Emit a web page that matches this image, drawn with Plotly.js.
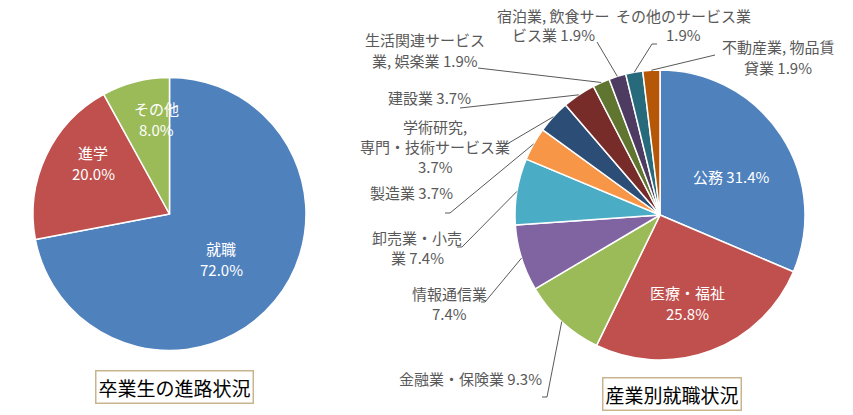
<!DOCTYPE html>
<html>
<head>
<meta charset="utf-8">
<script src="https://cdn.plot.ly/plotly-3.0.1.min.js"></script>
<style>
  html, body { margin: 0; padding: 0; background: #fff; }
  #chart { width: 853px; height: 415px; }
</style>
</head>
<body>
<div id="chart"></div>
<script>
// ---- data ----
const studentCats = ['就職', '進学', 'その他'];
const studentVals = [72.0, 20.0, 8.0];
const studentColors = ['#4F81BD', '#C0504D', '#9BBB59'];

const industryCats = ['公務', '医療・福祉', '金融業・保険業', '情報通信業', '卸売業・小売業', '製造業',
  '学術研究, 専門・技術サービス業', '建設業', '生活関連サービス業, 娯楽業', '宿泊業, 飲食サービス業',
  'その他のサービス業', '不動産業, 物品賃貸業'];
const industryVals = [31.4, 25.8, 9.3, 7.4, 7.4, 3.7, 3.7, 3.7, 1.9, 1.9, 1.9, 1.9];
const industryColors = ['#4F81BD', '#C0504D', '#9BBB59', '#8064A2', '#4BACC6', '#F79646',
  '#2C4D75', '#772C2A', '#5F7530', '#4D3B62', '#276A7C', '#B65708'];
// label text as printed (with line breaks)
const industryLabelLines = ['公務', '医療・福祉<br>', '金融業・保険業', '情報通信業<br>', '卸売業・小売<br>業', '製造業',
  '学術研究,<br>専門・技術サービス業<br>', '建設業', '生活関連サービス<br>業, 娯楽業', '宿泊業, 飲食サー<br>ビス業',
  'その他のサービス業<br>', '不動産業, 物品賃<br>貸業'];
const studentLabelLines = ['就職<br>', '進学<br>', 'その他<br>'];

const titleLeft = '卒業生の進路状況';
const titleRight = '産業別就職状況';

// ---- layout constants (pixels) ----
const W = 853, H = 415;
const leftPie = {cx: 169.5, cy: 214, r: 136.5};
const rightPie = {cx: 660, cy: 215, r: 145};
function dom(p) {
  return {
    x: [(p.cx - p.r) / W, (p.cx + p.r) / W],
    y: [1 - (p.cy + p.r) / H, 1 - (p.cy - p.r) / H]
  };
}
const px = x => x / W;
const py = y => 1 - y / H;

// label placements (pixel centres) and leader-line bends
const studentLabelPos = [[221, 259], [93, 163], [156, 119]];
const industryLabelPos = [[731, 176], [687, 303], [470, 378], [450, 303], [417, 247], [411, 193],
  [435, 146], [429, 97], [425, 50], [553, 25], [683, 25], [778, 57]];
const industryInside = [true, true, false, false, false, false, false, false, false, false, false, false];
const leaderBends = [null, null,
  [[547, 397], [542, 397]],
  [[485, 302], [481, 302]],
  [[462, 247], [457, 247]],
  [[450, 213], [445, 213]],
  [[502, 147]],
  [[460, 108]],
  [[478, 68]],
  [[597, 42]],
  [[652, 44], [657, 44]],
  [[715, 55]]];

function fmt(v) { return v.toFixed(1) + '%'; }
function joinLabel(line, v) {
  return line.endsWith('<br>') ? line + fmt(v) : line + ' ' + fmt(v);
}

const font = 'Noto Sans CJK JP, Noto Sans, sans-serif';

const traces = [
  {
    type: 'pie', labels: studentCats, values: studentVals, sort: false,
    direction: 'clockwise', rotation: 0, textinfo: 'none', hoverinfo: 'label+percent',
    marker: {colors: studentColors, line: {color: '#ffffff', width: 1.5}},
    domain: dom(leftPie), showlegend: false
  },
  {
    type: 'pie', labels: industryCats, values: industryVals, sort: false,
    direction: 'clockwise', rotation: 0, textinfo: 'none', hoverinfo: 'label+percent',
    marker: {colors: industryColors, line: {color: '#ffffff', width: 1.5}},
    domain: dom(rightPie), showlegend: false
  }
];

const annotations = [];
const shapes = [];

// each printed line becomes its own text, stacked around the label centre
function addLabel(text, pos, size, color, spacing) {
  const lines = text.split('<br>');
  const n = lines.length;
  lines.forEach((ln, k) => {
    annotations.push({
      xref: 'paper', yref: 'paper', x: px(pos[0]), y: py(pos[1] + (k - (n - 1) / 2) * spacing),
      xanchor: 'center', yanchor: 'middle', showarrow: false, align: 'center',
      text: ln, font: {family: font, size: size, color: color}
    });
  });
}

studentCats.forEach((c, i) => {
  addLabel(joinLabel(studentLabelLines[i], studentVals[i]), studentLabelPos[i], 15, '#ffffff', 20.5);
});

const total = industryVals.reduce((a, b) => a + b, 0);
let cum = 0;
industryCats.forEach((c, i) => {
  const mid = (cum + industryVals[i] / 2) / total * 2 * Math.PI;
  cum += industryVals[i];
  const inside = industryInside[i];
  addLabel(joinLabel(industryLabelLines[i], industryVals[i]), industryLabelPos[i],
    15, inside ? '#ffffff' : '#595959', inside ? 20.5 : 20);
  if (leaderBends[i]) {
    const tx = rightPie.cx + rightPie.r * Math.sin(mid);
    const ty = rightPie.cy - rightPie.r * Math.cos(mid);
    let path = 'M ' + px(tx) + ' ' + py(ty);
    leaderBends[i].forEach(p => { path += ' L ' + px(p[0]) + ' ' + py(p[1]); });
    shapes.push({type: 'path', xref: 'paper', yref: 'paper', path: path,
      line: {color: '#595959', width: 1}});
  }
});

annotations.push({
  xref: 'paper', yref: 'paper', x: px(174), y: py(387), xanchor: 'center', yanchor: 'middle',
  showarrow: false, text: titleLeft, font: {family: font, size: 19, color: '#000000'},
  bordercolor: '#C8B48E', borderwidth: 1.5, borderpad: 2, bgcolor: '#ffffff'
});
annotations.push({
  xref: 'paper', yref: 'paper', x: px(672), y: py(394), xanchor: 'center', yanchor: 'middle',
  showarrow: false, text: titleRight, font: {family: font, size: 19, color: '#000000'},
  bordercolor: '#C8B48E', borderwidth: 1.5, borderpad: 2, bgcolor: '#ffffff'
});

const layout = {
  width: W, height: H,
  margin: {l: 0, r: 0, t: 0, b: 0},
  paper_bgcolor: '#ffffff', plot_bgcolor: '#ffffff',
  showlegend: false,
  annotations: annotations,
  shapes: shapes
};

Plotly.newPlot('chart', traces, layout, {displayModeBar: false, staticPlot: true});
</script>
</body>
</html>
